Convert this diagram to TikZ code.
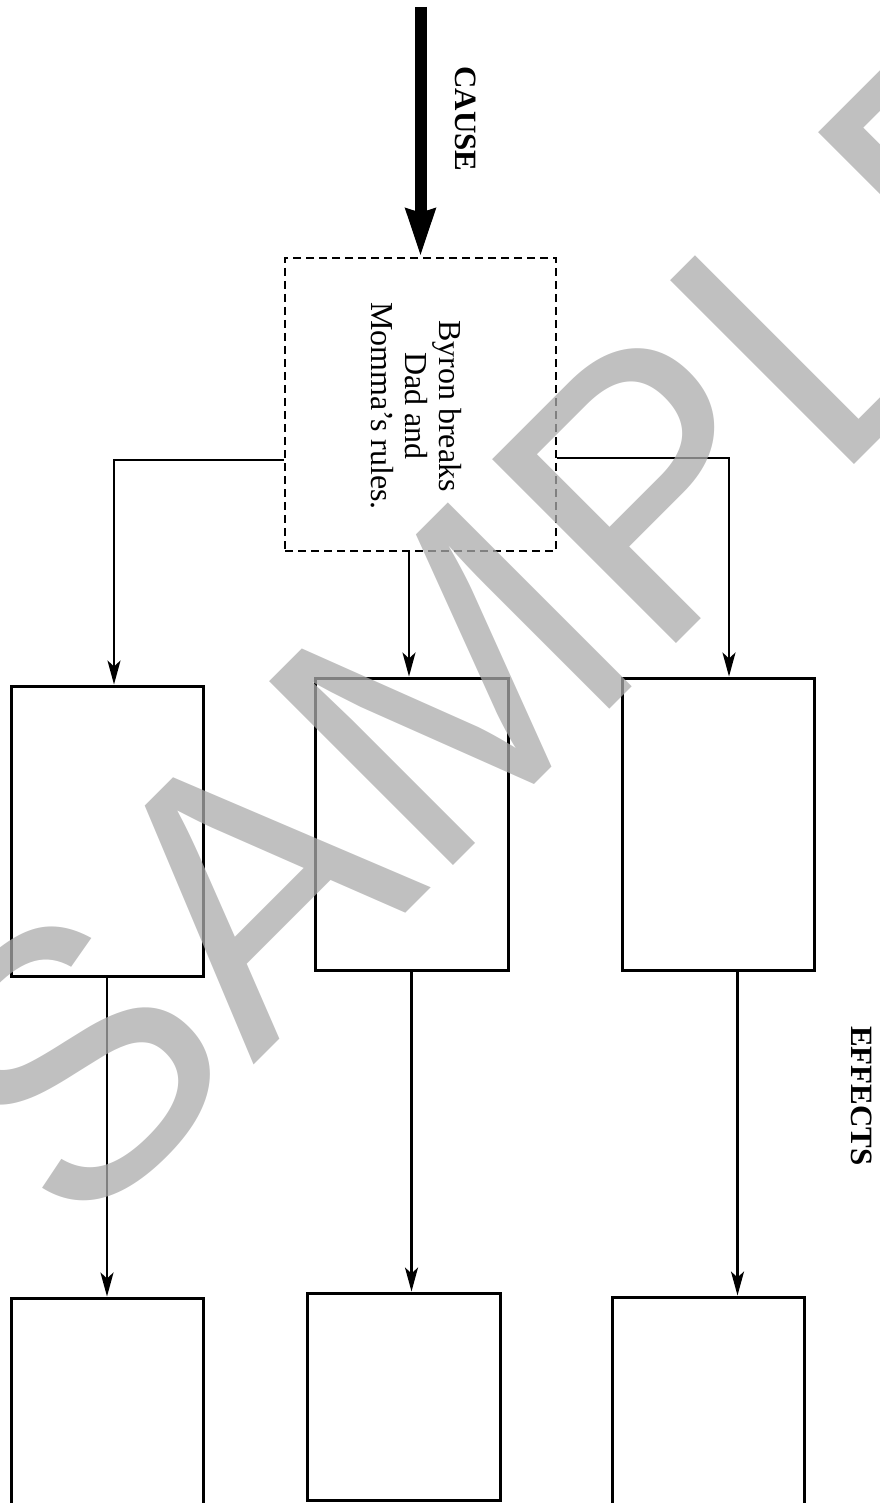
\documentclass[tikz,border=0pt]{standalone}
\usepackage{fontspec}
\setmainfont{Liberation Serif}
\newfontfamily\markfont{Liberation Sans}
\usetikzlibrary{arrows.meta}
\definecolor{markgray}{RGB}{171,171,171}

\begin{document}
\begin{tikzpicture}[
  x=1pt,y=-1pt,
  effbox/.style={draw,line width=3pt,minimum width=192pt,minimum height=290pt,inner sep=0pt},
  causebox/.style={draw,line width=2.5pt,dash pattern=on 8pt off 5pt,minimum width=271pt,minimum height=293pt,inner sep=0pt},
  arr/.style={-{Stealth[length=24pt,width=13pt,inset=6pt]},line width=2.5pt},
  bigarr/.style={-{Stealth[length=47pt,width=28pt,inset=3pt]},line width=12pt},
  heading/.style={font=\fontsize{31}{31}\selectfont\bfseries,rotate=-90},
  watermark/.style={rotate=45,text=markgray,text opacity=0.75,font=\markfont\fontsize{378}{378}\selectfont}
]
\useasboundingbox (0,0) rectangle (879,1503);
\clip (0,0) rectangle (879,1503);
% cause
\node[causebox] (cause) at (420.5,404.5) {};
\node[font=\fontsize{32}{34}\selectfont,align=center,rotate=-90] (causetxt) at (416,406) {Byron breaks\\Dad and\\Momma’s rules.};
\coordinate (top) at (420.5,7);
\draw[bigarr] (top) -- (cause.north);
\node[heading] (causelbl) at (466,119) {CAUSE};
\node[heading] (efflbl) at (862,1096) {EFFECTS};
% effects
\node[effbox] (lone) at (107,831) {};
\node[effbox,minimum width=193pt,minimum height=292pt] (mone) at (411.5,824) {};
\node[effbox,minimum height=292pt] (rone) at (718,824) {};
\node[effbox] (ltwo) at (107,1443) {};
\node[effbox,minimum width=193pt,minimum height=207pt] (mtwo) at (403.5,1396.5) {};
\node[effbox] (rtwo) at (708.5,1442) {};
\draw[arr] ([yshift=-55.5pt]cause.west) -| ([xshift=7pt]lone.north);
\draw[arr] ([xshift=-11.5pt]cause.south) -- ([xshift=-11.5pt]cause.south |- mone.north);
\draw[arr] ([yshift=-53.5pt]cause.east) -| ([xshift=11pt]rone.north);
\draw[arr] (lone) -- (ltwo);
\draw[arr] (mone.south) -- (mone.south |- mtwo.north);
\draw[arr] ([xshift=19.5pt]rone.south) -- ([xshift=19.5pt]rone.south |- rtwo.north);
% watermark
\node[watermark] (mark) at (525,610) {SAMPLE};
\end{tikzpicture}
\end{document}
